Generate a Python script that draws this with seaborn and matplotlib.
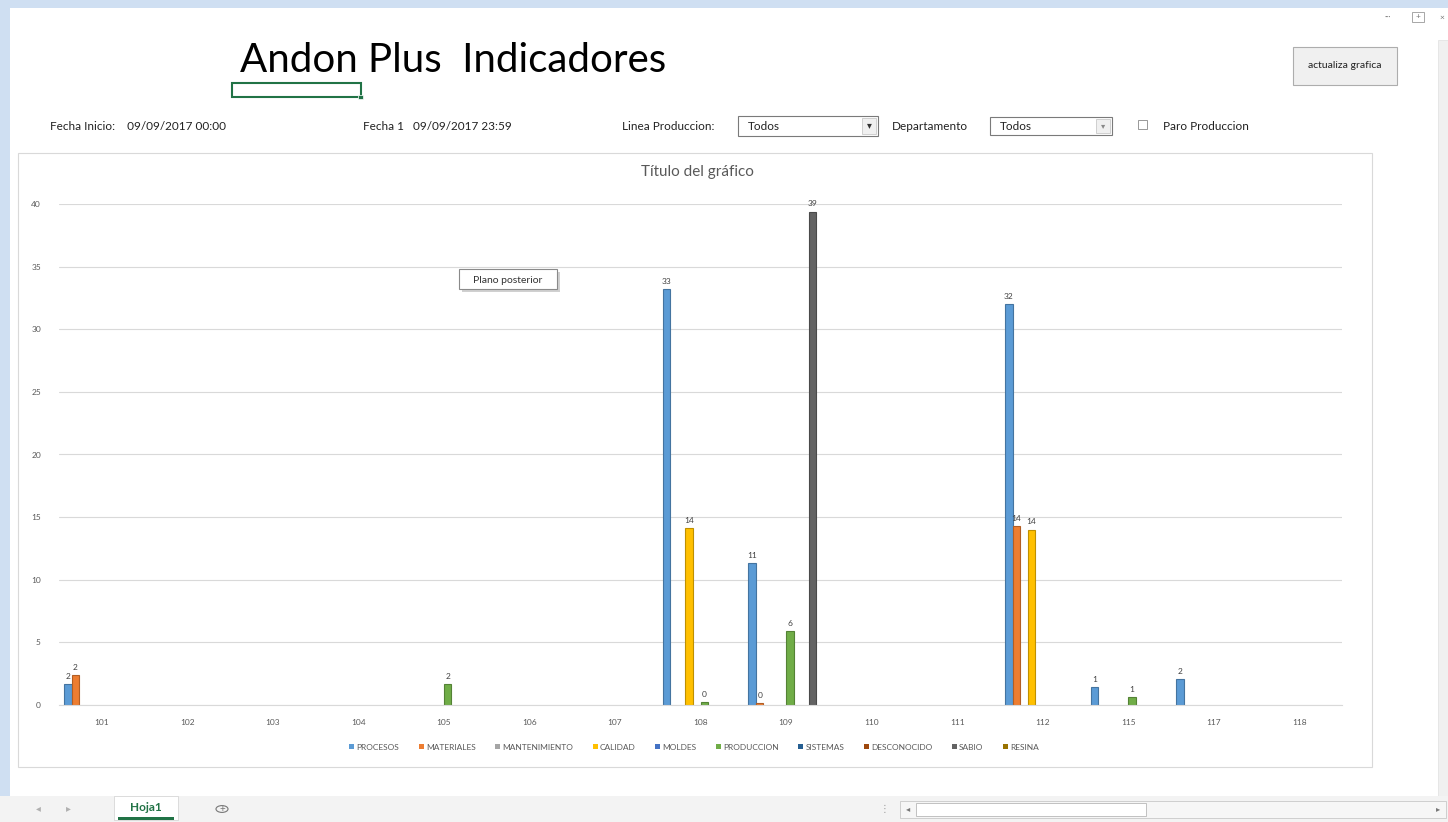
import matplotlib
matplotlib.use("Agg")
import matplotlib.pyplot as plt
from matplotlib.patches import Rectangle, Patch, Circle
import matplotlib.colors as mcolors
import seaborn as sns
import pandas as pd

# --- data (average minutes per line / department) ---
lineas = ['101', '102', '103', '104', '105', '106', '107', '108',
          '109', '110', '111', '112', '115', '117', '118']
departamentos = ['PROCESOS', 'MATERIALES', 'MANTENIMIENTO', 'CALIDAD', 'MOLDES',
                 'PRODUCCION', 'SISTEMAS', 'DESCONOCIDO', 'SABIO', 'RESINA']
colores = ['#5B9BD5', '#ED7D31', '#A5A5A5', '#FFC000', '#4472C4',
           '#70AD47', '#255E91', '#9E480E', '#636363', '#997300']

N = None
procesos      = [1.7, N, N, N, N, N, N, 33.2, 11.3, N, N, 32.0, 1.4, 2.1, N]
materiales    = [2.4, N, N, N, N, N, N, N, 0.15, N, N, 14.3, N, N, N]
mantenimiento = [N] * 15
calidad       = [N, N, N, N, N, N, N, 14.1, N, N, N, 14.0, N, N, N]
moldes        = [N] * 15
produccion    = [N, N, N, N, 1.7, N, N, 0.25, 5.9, N, N, N, 0.6, N, N]
sistemas      = [N] * 15
desconocido   = [N] * 15
sabio         = [N, N, N, N, N, N, N, N, 39.4, N, N, N, N, N, N]
resina        = [N] * 15

series = [procesos, materiales, mantenimiento, calidad, moldes,
          produccion, sistemas, desconocido, sabio, resina]

rows = []
for dep, vals in zip(departamentos, series):
    for linea, v in zip(lineas, vals):
        if v is not None:
            rows.append({'linea': linea, 'departamento': dep, 'valor': v})
df = pd.DataFrame(rows)

sns.set_style('white')
plt.rcParams['font.family'] = ['Lato', 'DejaVu Sans']

W, H = 1448, 822
fig = plt.figure(figsize=(W / 100, H / 100), dpi=100)
fig.patch.set_facecolor('#cfdff2')


def fx(x):
    return x / W


def fy(y):
    return 1 - y / H


def box(x0, y0, x1, y1, z=0.5, **kw):
    r = Rectangle((fx(x0), fy(y1)), (x1 - x0) / W, (y1 - y0) / H,
                  transform=fig.transFigure, zorder=z, **kw)
    fig.add_artist(r)
    return r


# sheet background
box(10, 8, 1448, 796, z=0.1, facecolor='white', edgecolor='none')
box(1438, 40, 1448, 796, z=0.2, facecolor='#f0f0f0', edgecolor='#e0e0e0', lw=0.5)
box(0, 796, 1448, 822, z=0.2, facecolor='#f3f3f3', edgecolor='none')

# chart area border
box(18, 153, 1372, 767, z=0.3, facecolor='white', edgecolor='#d9d9d9', lw=0.8)

# --- the chart ---
ax = fig.add_axes([fx(59), fy(705), (1342 - 59) / W, (705 - 204) / H])
ax.set_zorder(1)
ax.set_facecolor('none')
palette = dict(zip(departamentos, colores))
sns.barplot(data=df, x='linea', y='valor', hue='departamento',
            order=lineas, hue_order=departamentos, palette=palette,
            width=0.88, saturation=1, legend=False, ax=ax)

# darker outline, like the Excel bevelled columns
for p in ax.patches:
    r, g, b, _ = p.get_facecolor()
    p.set_edgecolor((r * 0.75, g * 0.75, b * 0.75))
    p.set_linewidth(0.8)

for cont in ax.containers:
    ax.bar_label(cont, labels=[f'{v:.0f}' for v in cont.datavalues],
                 padding=3, fontsize=6, color='#404040')

ax.set_xlim(-0.5, len(lineas) - 0.5)
ax.set_ylim(0, 40)
ax.set_yticks(range(0, 41, 5))
ax.yaxis.grid(True, color='#d9d9d9', lw=0.8)
ax.set_axisbelow(True)
for s in ['top', 'right', 'left']:
    ax.spines[s].set_visible(False)
ax.spines['bottom'].set_color('#d9d9d9')
ax.tick_params(axis='both', length=0, labelsize=6, colors='#595959')
ax.tick_params(axis='y', pad=13)
ax.tick_params(axis='x', pad=10)
ax.set_xlabel('')
ax.set_ylabel('')

fig.text(fx(697), fy(172), 'Título del gráfico', ha='center', va='center',
         fontsize=11, color='#595959', zorder=2)

handles = [Patch(facecolor=c, edgecolor='none') for c in colores]
leg = fig.legend(handles, departamentos, loc='center', bbox_to_anchor=(fx(694), fy(747)),
                 ncol=10, frameon=False, fontsize=6, handlelength=0.6, handleheight=0.6,
                 handletextpad=0.3, columnspacing=2.3, labelcolor='#595959')
leg.set_zorder(2)

# --- sheet header ---
fig.text(fx(240), fy(60), 'Andon Plus  Indicadores', ha='left', va='center',
         fontsize=29, color='black', zorder=2)
box(232, 83, 361, 97, z=2, facecolor='none', edgecolor='#217346', lw=1.5)
box(358, 95, 363, 99, z=2, facecolor='#217346', edgecolor='white', lw=0.5)

box(1293, 47, 1397, 85, z=2, facecolor='#f0f0f0', edgecolor='#adadad', lw=0.8)
fig.text(fx(1345), fy(66), 'actualiza grafica', ha='center', va='center',
         fontsize=7.5, color='#222222', zorder=3)

hdr = dict(fontsize=8.5, color='#222222', va='center', ha='left', zorder=3)
fig.text(fx(50), fy(126), 'Fecha Inicio:    09/09/2017 00:00', **hdr)
fig.text(fx(363), fy(126), 'Fecha 1   09/09/2017 23:59', **hdr)
fig.text(fx(622), fy(126), 'Linea Produccion:', **hdr)
box(738, 116, 878, 136, z=2, facecolor='white', edgecolor='#7a7a7a', lw=0.8)
box(862, 118, 876, 134, z=2, facecolor='#f0f0f0', edgecolor='#c0c0c0', lw=0.5)
fig.text(fx(748), fy(126), 'Todos', **hdr)
fig.text(fx(869), fy(126), '▾', ha='center', va='center', fontsize=7, color='#333333', zorder=3)
fig.text(fx(892), fy(126), 'Departamento', **hdr)
box(990, 117, 1112, 135, z=2, facecolor='white', edgecolor='#7a7a7a', lw=0.8)
box(1096, 119, 1110, 133, z=2, facecolor='#f0f0f0', edgecolor='#c0c0c0', lw=0.5)
fig.text(fx(1000), fy(127), 'Todos', **hdr)
fig.text(fx(1103), fy(126), '▾', ha='center', va='center', fontsize=6, color='#888888', zorder=3)
box(1138, 120, 1147, 129, z=2, facecolor='white', edgecolor='#888888', lw=0.6)
fig.text(fx(1163), fy(126), 'Paro Produccion', **hdr)

# tooltip
box(462, 272, 560, 292, z=4, facecolor='#d0d0d0', edgecolor='none')
box(459, 269, 557, 289, z=4, facecolor='white', edgecolor='#8a8a8a', lw=0.8)
fig.text(fx(508), fy(280), 'Plano posterior', ha='center', va='center',
         fontsize=7.5, color='#333333', zorder=5)

# window icons top right
fig.text(fx(1388), fy(17), '···', ha='center', va='center', fontsize=6, color='#777777', zorder=3)
box(1412, 12, 1424, 22, z=2, facecolor='none', edgecolor='#999999', lw=0.6)
fig.text(fx(1418), fy(17), '+', ha='center', va='center', fontsize=6, color='#777777', zorder=3)
fig.text(fx(1442), fy(17), '×', ha='center', va='center', fontsize=6, color='#777777', zorder=3)

# bottom sheet tabs bar
fig.text(fx(38), fy(809), '◂', ha='center', va='center', fontsize=7, color='#b0b0b0', zorder=3)
fig.text(fx(68), fy(809), '▸', ha='center', va='center', fontsize=7, color='#b0b0b0', zorder=3)
box(114, 796, 178, 820, z=2, facecolor='white', edgecolor='#d0d0d0', lw=0.5)
box(118, 817, 174, 820, z=2, facecolor='#217346', edgecolor='none')
fig.text(fx(146), fy(807), 'Hoja1', ha='center', va='center', fontsize=8.5,
         fontweight='bold', color='#217346', zorder=3)
fig.add_artist(Circle((fx(222), fy(809)), 6 / W, transform=fig.transFigure,
                      facecolor='none', edgecolor='#777777', lw=0.8, zorder=3))
fig.text(fx(222), fy(809), '+', ha='center', va='center', fontsize=7, color='#777777', zorder=3)
fig.text(fx(884), fy(809), '⋮', ha='center', va='center', fontsize=7, color='#999999', zorder=3)
box(900, 801, 1446, 818, z=2, facecolor='#f6f6f6', edgecolor='#c8c8c8', lw=0.6)
box(916, 803, 1146, 816, z=2, facecolor='white', edgecolor='#b8b8b8', lw=0.6)
fig.text(fx(908), fy(809), '◂', ha='center', va='center', fontsize=6, color='#777777', zorder=3)
fig.text(fx(1438), fy(809), '▸', ha='center', va='center', fontsize=6, color='#777777', zorder=3)

fig.savefig('out.png', dpi=100, facecolor=fig.get_facecolor())
